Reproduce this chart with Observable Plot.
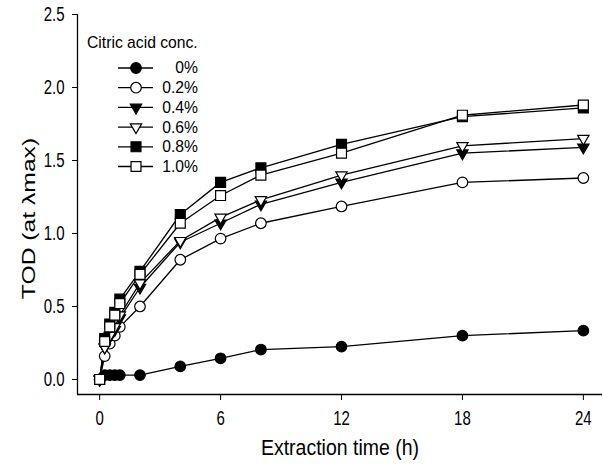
<!DOCTYPE html>
<html><head><meta charset="utf-8">
<script src="https://cdn.jsdelivr.net/npm/d3@7"></script>
<script src="https://cdn.jsdelivr.net/npm/@observablehq/plot@0.6"></script>
<style>
body{margin:0;background:#fff;}
#wrap{position:relative;width:603px;height:464px;font-family:"Liberation Sans",Arial,sans-serif;}
#legend{position:absolute;left:0;top:0;pointer-events:none;}
</style></head><body><div id="wrap"></div>
<script>
// ---- data ----
const times = [0, 0.25, 0.5, 0.75, 1, 2, 4, 6, 8, 12, 18, 24];
const series = ["0%", "0.2%", "0.4%", "0.6%", "0.8%", "1.0%"];
const tod0  = [0, 0.03, 0.03, 0.03, 0.03, 0.03, 0.09, 0.145, 0.205, 0.225, 0.30, 0.335];
const tod02 = [0, 0.16, 0.245, 0.30, 0.36, 0.50, 0.82, 0.965, 1.07, 1.185, 1.35, 1.38];
const tod04 = [0, 0.22, 0.29, 0.34, 0.42, 0.63, 0.94, 1.07, 1.20, 1.35, 1.55, 1.59];
const tod06 = [0, 0.22, 0.30, 0.36, 0.44, 0.66, 0.95, 1.11, 1.23, 1.40, 1.60, 1.65];
const tod08 = [0, 0.28, 0.38, 0.46, 0.55, 0.74, 1.13, 1.35, 1.45, 1.61, 1.80, 1.86];
const tod10 = [0, 0.26, 0.36, 0.44, 0.52, 0.72, 1.07, 1.26, 1.40, 1.55, 1.81, 1.88];
const values = [tod0, tod02, tod04, tod06, tod08, tod10];
const xTicks = [0, 6, 12, 18, 24];
const yTicks = [0, 0.5, 1, 1.5, 2, 2.5];
const xLabel = "Extraction time (h)";
const yLabel = "TOD (at \u03bbmax)";
const legendTitle = "Citric acid conc.";

// ---- styles ----
const styles = [
  {symbol: "circle",   fill: "black", rotate: 0,   r: 5.3},
  {symbol: "circle",   fill: "white", rotate: 0,   r: 5.3},
  {symbol: "triangle", fill: "black", rotate: 180, r: 4.2},
  {symbol: "triangle", fill: "white", rotate: 180, r: 4.2},
  {symbol: "square",   fill: "black", rotate: 0,   r: 5.6},
  {symbol: "square",   fill: "white", rotate: 0,   r: 5.6}
];
const font = '"Liberation Sans", Arial, sans-serif';

const rows = series.flatMap((s, i) => times.map((t, j) => ({s, i, t, v: values[i][j]})));
const xDomain = [-1.1, 24.95];
const yDomain = [-0.103, 2.5];

const marks = [
  Plot.ruleX([xDomain[0]], {stroke: "black", strokeWidth: 1.3}),
  Plot.ruleY([yDomain[0]], {stroke: "black", strokeWidth: 1.3}),
  Plot.axisY({ticks: yTicks, tickFormat: d => d.toFixed(1), tickSize: 5, tickPadding: 8, fontSize: 15, label: null}),
  Plot.axisX({ticks: xTicks, tickSize: 6, tickPadding: 12, fontSize: 15, label: null}),
  Plot.line(rows, {x: "t", y: "v", z: "s", stroke: "black", strokeWidth: 1.3}),
  ...series.map((s, i) => Plot.dot(rows.filter(d => d.i === i), {
    x: "t", y: "v", symbol: styles[i].symbol, r: styles[i].r, rotate: styles[i].rotate,
    fill: styles[i].fill, stroke: "black", strokeWidth: 1.2
  })),
  Plot.text([xLabel], {frameAnchor: "bottom", dy: 60, fontSize: 19.5, text: d => d}),
  Plot.text([yLabel], {frameAnchor: "left", textAnchor: "middle", rotate: -90, dx: -49, dy: 14, fontSize: 19, text: d => d})
];

const chart = Plot.plot({
  width: 603, height: 464,
  marginLeft: 77, marginRight: 1, marginTop: 14, marginBottom: 70,
  style: {fontFamily: font, color: "black", background: "white", overflow: "visible"},
  x: {domain: xDomain},
  y: {domain: yDomain},
  marks
});
const wrap = document.getElementById("wrap");
wrap.appendChild(chart);

// stretch text glyphs the way the scanned figure's lettering is stretched
function stretch(el, sx, sy) {
  const b = el.getBBox();
  const cx = b.x + b.width / 2, cy = b.y + b.height / 2;
  const prev = el.getAttribute("transform") || "";
  el.setAttribute("transform", `${prev} translate(${cx},${cy}) scale(${sx},${sy}) translate(${-cx},${-cy})`);
}
chart.querySelectorAll('g[aria-label="y-axis tick label"] text, g[aria-label="x-axis tick label"] text')
  .forEach(t => stretch(t, 1, 1.3));
chart.querySelectorAll('g[aria-label="text"] text').forEach(t => {
  if (t.textContent === yLabel) stretch(t, 1.3, 1);
  else if (t.textContent === xLabel) stretch(t, 1, 1.1);
});

// ---- legend (inside plot area, top-left) ----
const symMap = {circle: d3.symbolCircle, triangle: d3.symbolTriangle, square: d3.symbolSquare};
const lg = d3.select(wrap).append("svg").attr("id", "legend").attr("width", 603).attr("height", 464)
  .style("font-family", font);
lg.append("text").attr("x", 87).attr("y", 48).attr("font-size", 15.7).text(legendTitle);
series.forEach((s, i) => {
  const cy = 68 + i * 19.7;
  const g = lg.append("g");
  g.append("line").attr("x1", 118).attr("x2", 153).attr("y1", cy).attr("y2", cy).attr("stroke", "black").attr("stroke-width", 1.3);
  g.append("path")
    .attr("d", d3.symbol(symMap[styles[i].symbol], styles[i].r * styles[i].r * Math.PI)())
    .attr("transform", `translate(136,${cy}) rotate(${styles[i].rotate})`)
    .attr("fill", styles[i].fill).attr("stroke", "black").attr("stroke-width", 1.2);
  g.append("text").attr("x", 198).attr("y", cy).attr("dy", "0.35em").attr("text-anchor", "end")
    .attr("font-size", 15.7).text(s);
});
</script></body></html>
